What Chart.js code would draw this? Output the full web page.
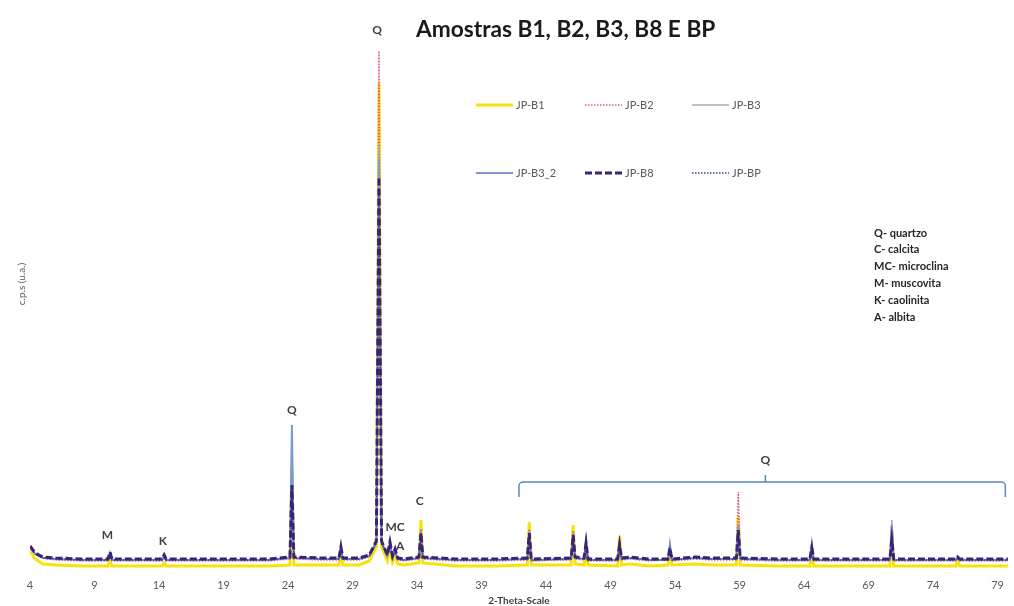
<!DOCTYPE html>
<html>
<head>
<meta charset="utf-8">
<script src="https://cdn.jsdelivr.net/npm/chart.js@4.4.1/dist/chart.umd.min.js"></script>
<style>
html, body { margin: 0; padding: 0; background: #fff; }
#wrap { width: 1014px; height: 606px; }
</style>
</head>
<body>
<div id="wrap"><canvas id="plot"></canvas></div>
<script>
"use strict";

// 2-theta positions shared by all samples
const angles = [
    4.0, 4.4, 5.0, 6.0, 8.0, 10.05, 10.2, 10.35, 12.0, 14.25, 14.4, 14.55,
    17.0, 20.0, 22.5, 24.15, 24.3, 24.45, 26.5, 27.95, 28.1, 28.25, 29.5, 30.3,
    30.85, 31.05, 31.25, 31.7, 31.9, 32.1, 32.3, 32.5, 33.0, 34.15, 34.3, 34.45,
    37.0, 40.0, 42.55, 42.7, 42.85, 45.95, 46.1, 46.25, 46.95, 47.1, 47.25, 49.55,
    49.7, 49.85, 50.5, 52.0, 53.45, 53.6, 53.75, 55.5, 56.8, 58.75, 58.9, 59.05,
    62.0, 64.45, 64.6, 64.75, 67.5, 70.65, 70.8, 70.95, 75.75, 75.9, 76.05, 79.8
];

// counts (u.a.)
const jp_b1 = [
    18, 10, 5, 4, 3, 3, 8, 3, 3, 3, 6, 3,
    3, 3, 3, 4, 101, 4, 4, 4, 18, 4, 4, 8,
    22, 486, 22, 8, 20, 7, 14, 5, 4, 6, 49, 6,
    3, 3, 4, 47, 4, 4, 44, 5, 4, 22, 4, 3,
    33, 4, 5, 3, 4, 18, 4, 5, 4, 4, 52, 4,
    3, 3, 18, 3, 3, 3, 39, 3, 3, 8, 3, 3
];
const jp_b2 = [
    22, 15, 11, 9, 8, 8, 15, 8, 8, 8, 12, 8,
    8, 8, 8, 10, 92, 10, 9, 9, 20, 9, 9, 12,
    26, 518, 26, 12, 24, 11, 17, 9, 8, 10, 40, 10,
    8, 8, 9, 40, 8, 9, 38, 10, 9, 24, 8, 8,
    28, 9, 10, 8, 9, 22, 8, 10, 9, 9, 77, 9,
    8, 8, 22, 8, 8, 8, 36, 8, 8, 10, 8, 8
];
const jp_b3 = [
    21, 15, 11, 10, 9, 9, 15, 9, 9, 9, 13, 9,
    9, 9, 9, 11, 95, 11, 10, 10, 21, 10, 10, 13,
    27, 422, 27, 13, 25, 12, 18, 10, 9, 11, 38, 11,
    9, 9, 10, 38, 9, 10, 36, 11, 10, 27, 9, 9,
    27, 10, 11, 9, 9, 26, 9, 11, 10, 10, 45, 10,
    9, 9, 27, 9, 9, 9, 49, 9, 9, 12, 9, 9
];
const jp_b3_2 = [
    22, 15, 11, 10, 9, 9, 16, 9, 9, 9, 13, 9,
    9, 9, 9, 11, 144, 11, 10, 10, 21, 10, 10, 13,
    27, 410, 27, 13, 26, 12, 19, 10, 9, 11, 37, 11,
    9, 9, 10, 37, 9, 10, 35, 11, 10, 28, 9, 9,
    26, 10, 11, 9, 9, 24, 9, 11, 10, 10, 43, 10,
    9, 9, 24, 9, 9, 9, 44, 9, 9, 12, 9, 9
];
const jp_b8 = [
    23, 16, 12, 11, 10, 10, 17, 10, 10, 10, 14, 10,
    10, 10, 10, 12, 84, 12, 11, 11, 22, 11, 11, 14,
    28, 392, 28, 14, 27, 13, 20, 11, 10, 12, 36, 12,
    10, 10, 11, 36, 10, 11, 34, 12, 11, 26, 10, 10,
    24, 11, 12, 10, 10, 21, 10, 12, 11, 11, 39, 11,
    10, 10, 21, 10, 10, 10, 29, 10, 10, 12, 10, 10
];
const jp_bp = [
    22, 15, 11, 10, 9, 9, 16, 9, 9, 9, 13, 9,
    9, 9, 9, 11, 80, 11, 10, 10, 21, 10, 10, 13,
    26, 380, 26, 13, 25, 12, 18, 10, 9, 11, 34, 11,
    9, 9, 10, 34, 9, 10, 32, 11, 10, 25, 9, 9,
    23, 10, 11, 9, 9, 20, 9, 11, 10, 10, 37, 10,
    9, 9, 20, 9, 9, 9, 28, 9, 9, 11, 9, 9
];

const xTicks = [4, 9, 14, 19, 24, 29, 34, 39, 44, 49, 54, 59, 64, 69, 74, 79];

const chartTitle = 'Amostras B1, B2, B3, B8 E BP';
const xTitle = '2-Theta-Scale';
const yTitle = 'c.p.s (u.a.)';

// phase labels placed at (2-theta, counts)
const peakLabels = ['Q', 'Q', 'M', 'K', 'C', 'MC', 'A', 'Q'];
const peakLabelX = [30.9, 24.3, 10.0, 14.3, 34.2, 32.3, 32.7, 61.0];
const peakLabelY = [539, 159, 34, 28, 68, 42, 23, 109];
// bracket over the high-angle quartz peaks: x from/to, y end/level/tip
const bracketX = [41.9, 79.6];
const bracketY = [72, 87, 94];

const mineralKey = ['Q- quartzo', 'C- calcita', 'MC- microclina', 'M- muscovita', 'K- caolinita', 'A- albita'];

function toPoints(vals) {
    return angles.map((a, i) => ({ x: a, y: vals[i] }));
}

const datasets = [
    { label: 'JP-B1', data: toPoints(jp_b1), borderColor: '#f4e40c', borderWidth: 3, order: 6 },
    { label: 'JP-B2', data: toPoints(jp_b2), borderColor: '#dd5a72', borderWidth: 1.5, borderDash: [1.5, 1.5], order: 5 },
    { label: 'JP-B3', data: toPoints(jp_b3), borderColor: '#a6a8b8', borderWidth: 1.5, order: 4 },
    { label: 'JP-B3_2', data: toPoints(jp_b3_2), borderColor: '#7b98d0', borderWidth: 2, order: 3 },
    { label: 'JP-B8', data: toPoints(jp_b8), borderColor: '#3b2277', borderWidth: 3, borderDash: [7, 3], order: 1 },
    { label: 'JP-BP', data: toPoints(jp_bp), borderColor: '#2f4590', borderWidth: 1.5, borderDash: [1.5, 1.5], order: 2 }
];
datasets.forEach(d => { d.pointRadius = 0; d.tension = 0; d.fill = false; });

const textGrey = '#595959';

const overlay = {
    id: 'overlay',
    afterDatasetsDraw(chart) {
        const ctx = chart.ctx;
        const xs = chart.scales.x;
        const ys = chart.scales.y;
        ctx.save();

        // bracket
        const bx0 = xs.getPixelForValue(bracketX[0]);
        const bx1 = xs.getPixelForValue(bracketX[1]);
        const bm = xs.getPixelForValue(peakLabelX[7]);
        const yEnd = ys.getPixelForValue(bracketY[0]);
        const yLev = ys.getPixelForValue(bracketY[1]);
        const yTip = ys.getPixelForValue(bracketY[2]);
        ctx.strokeStyle = '#5a86c0';
        ctx.lineWidth = 1.5;
        ctx.beginPath();
        ctx.moveTo(bx0, yEnd);
        ctx.arcTo(bx0, yLev, bx0 + 6, yLev, 4);
        ctx.lineTo(bx1 - 6, yLev);
        ctx.arcTo(bx1, yLev, bx1, yEnd, 4);
        ctx.lineTo(bx1, yEnd);
        ctx.moveTo(bm, yLev);
        ctx.lineTo(bm, yTip);
        ctx.stroke();

        // phase labels
        ctx.fillStyle = '#404040';
        ctx.font = 'bold 12px Lato';
        ctx.textAlign = 'center';
        ctx.textBaseline = 'middle';
        peakLabels.forEach((t, i) => {
            ctx.fillText(t, xs.getPixelForValue(peakLabelX[i]), ys.getPixelForValue(peakLabelY[i]));
        });
        ctx.restore();
    },
    afterDraw(chart) {
        const ctx = chart.ctx;
        ctx.save();

        // title, fitted to the width it has in the figure
        let size = 16;
        ctx.font = `bold ${size}px Lato`;
        size = size * 300 / ctx.measureText(chartTitle).width;
        ctx.font = `bold ${size.toFixed(1)}px Lato`;
        ctx.fillStyle = '#1a1a1a';
        ctx.textAlign = 'left';
        ctx.textBaseline = 'middle';
        ctx.fillText(chartTitle, 416, 30);

        // legend, 2 rows of 3
        const colX = [476, 585, 692];
        const rowY = [105, 173];
        ctx.font = '11px Lato';
        chart.data.datasets.forEach((d, i) => {
            const x = colX[i % 3];
            const y = rowY[Math.floor(i / 3)];
            ctx.save();
            ctx.strokeStyle = d.borderColor;
            ctx.lineWidth = d.borderWidth;
            ctx.setLineDash(d.borderDash || []);
            ctx.beginPath();
            ctx.moveTo(x, y);
            ctx.lineTo(x + 37, y);
            ctx.stroke();
            ctx.restore();
            ctx.fillStyle = textGrey;
            ctx.fillText(d.label, x + 40, y);
        });

        // mineral key
        ctx.fillStyle = '#262626';
        ctx.font = 'bold 11px Lato';
        mineralKey.forEach((t, i) => {
            ctx.fillText(t, 874, 233 + i * 16.8);
        });

        // y title
        ctx.save();
        ctx.translate(22, 284);
        ctx.rotate(-Math.PI / 2);
        ctx.textAlign = 'center';
        ctx.font = '10px Lato';
        ctx.fillStyle = textGrey;
        ctx.fillText(yTitle, 0, 0);
        ctx.restore();

        ctx.restore();
    }
};

const plotCanvas = document.getElementById('plot');
const chart = new Chart(plotCanvas, {
    type: 'line',
    data: { datasets: datasets },
    options: {
        responsive: true,
        maintainAspectRatio: false,
        animation: false,
        layout: { padding: { left: 30, right: 2, top: 20, bottom: 0 } },
        plugins: {
            legend: { display: false },
            tooltip: { enabled: false }
        },
        scales: {
            x: {
                type: 'linear',
                min: 4,
                max: 79.8,
                grid: { display: false, drawTicks: false },
                border: { display: false },
                afterBuildTicks: (axis) => { axis.ticks = xTicks.map(v => ({ value: v })); },
                afterFit: (axis) => { axis.height = 37; },
                ticks: {
                    padding: 10,
                    color: textGrey,
                    font: { family: 'Lato', size: 11 },
                    maxRotation: 0,
                    autoSkip: false
                },
                title: {
                    display: true,
                    text: xTitle,
                    color: '#404040',
                    font: { family: 'Lato', size: 10, weight: 'bold', lineHeight: 1 },
                    padding: { top: 0, bottom: 0 }
                }
            },
            y: {
                display: false,
                min: 0,
                max: 549
            }
        }
    },
    plugins: [overlay]
});
</script>
</body>
</html>
